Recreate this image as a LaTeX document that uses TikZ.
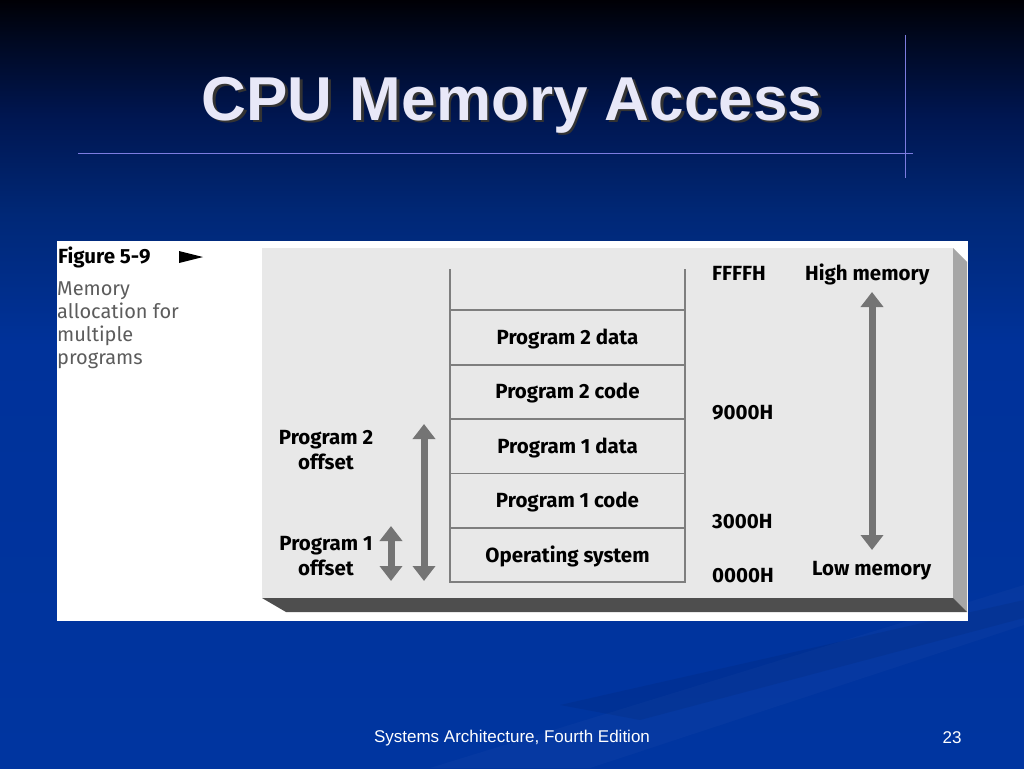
\documentclass[tikz,border=0pt]{standalone}
\usepackage{fontspec}
\setmainfont{Liberation Sans}
\newfontfamily\figfont{Fira Sans}
\usetikzlibrary{positioning,arrows.meta}
\definecolor{bgtop}{HTML}{000005}
\definecolor{bgblack}{HTML}{000820}
\definecolor{bgdark}{HTML}{001650}
\definecolor{bgmid}{HTML}{002877}
\definecolor{bglow}{HTML}{00329A}
\definecolor{bgbot}{HTML}{0035A0}
\definecolor{titlewhite}{HTML}{E8E8F8}
\definecolor{rulecol}{HTML}{7C7CE0}
\definecolor{panelgray}{HTML}{E8E8E8}
\definecolor{bevelgray}{HTML}{A6A6A6}
\definecolor{slabgray}{HTML}{4E4E4E}
\definecolor{linegray}{HTML}{7E7E7E}
\definecolor{arrowgray}{HTML}{747474}
\definecolor{capgray}{HTML}{5C5C5C}
\pgfdeclareverticalshading{slidebg}{100bp}{color(0bp)=(bgbot); color(25bp)=(bgbot); color(52.5bp)=(bglow); color(61bp)=(bgmid); color(67.5bp)=(bgdark); color(72.5bp)=(bgblack); color(75bp)=(bgtop); color(100bp)=(bgtop)}
\tikzset{
  figtext/.style={inner sep=0pt, font=\figfont\bfseries\fontsize{20.5}{25}\selectfont},
  memcell/.style={figtext, draw=linegray, line width=1.8pt, minimum width=235pt,
    minimum height=54.4pt, outer sep=0pt, text height=14pt, text depth=0pt},
  bigarrow/.style={draw=arrowgray, line width=7pt,
    {Triangle[width=22pt,length=15pt]}-{Triangle[width=22pt,length=15pt]}},
  rule/.style={draw=rulecol, line width=0.8pt}
}
\begin{document}
\begin{tikzpicture}[x=1pt,y=-1pt]
  \useasboundingbox (0,0) rectangle (1024,768);
  \shade[shading=slidebg] (0,0) rectangle (1024,768);
  \fill[white,opacity=0.025] (430,768) -- (1024,585) -- (1024,625) -- (590,768) -- cycle;
  \fill[black,opacity=0.06] (560,705) -- (1024,600) -- (1024,618) -- (640,720) -- cycle;
  \node[font=\bfseries\fontsize{62}{70}\selectfont, text=black!80, anchor=base] (titleshadow) at (514.5,122.5) {CPU Memory Access};
  \node[font=\bfseries\fontsize{62}{70}\selectfont, text=titlewhite, anchor=base] (title) at (512,120) {CPU Memory Access};
  \coordinate (hl) at (78,153);
  \coordinate (hr) at (913,153);
  \coordinate (vt) at (905,35);
  \coordinate (vb) at (905,178);
  \draw[rule] (hl) -- (hr);
  \draw[rule] (vt) -- (vb);
  \fill[white] (57,241) rectangle (968,621);
  \fill[panelgray] (262,248) rectangle (953,598);
  \fill[bevelgray] (953,248) -- (967,262) -- (967,612) -- (953,598) -- cycle;
  \fill[slabgray] (262,598) -- (953,598) -- (967,612) -- (286,612) -- cycle;
  \node[figtext, anchor=base west] (fig) at (58,263) {Figure 5-9};
  \fill (179,251) -- (203,257) -- (179,263) -- cycle;
  \node[inner sep=0pt, anchor=north west, align=left, text=capgray,
    font=\figfont\fontsize{20}{23}\selectfont] (caption) at (57,282)
    {Memory\\allocation for\\multiple\\programs};
  \node[memcell] (os) at (567.5,555) {Operating system};
  \node[memcell, above=0pt of os] (p1code) {Program 1 code};
  \node[memcell, above=0pt of p1code] (p1data) {Program 1 data};
  \node[memcell, above=0pt of p1data] (p2code) {Program 2 code};
  \node[memcell, above=0pt of p2code] (p2data) {Program 2 data};
  \draw[draw=linegray, line width=1.8pt] (p2data.north west) -- ++(0,-41);
  \draw[draw=linegray, line width=1.8pt] (p2data.north east) -- ++(0,-41);
  \node[figtext, anchor=base west] (affff) at (712,280) {FFFFH};
  \node[figtext, anchor=base west] (a9000) at (712,419) {9000H};
  \node[figtext, anchor=base west] (a3000) at (712,528) {3000H};
  \node[figtext, anchor=base west] (a0000) at (712,582) {0000H};
  \node[figtext, anchor=base west] (high) at (805,280) {High memory};
  \node[figtext, anchor=base west] (low) at (812,575) {Low memory};
  \node[figtext, align=center] (p2off) at (326,450) {Program 2\\offset};
  \node[figtext, align=center] (p1off) at (326,556) {Program 1\\offset};
  \coordinate (memtop) at (872,292);
  \coordinate (membot) at (872,550);
  \coordinate (p2top) at (424,424);
  \coordinate (p2bot) at (424,581);
  \coordinate (p1top) at (391,526);
  \coordinate (p1bot) at (391,581);
  \draw[bigarrow] (memtop) -- (membot);
  \draw[bigarrow] (p2top) -- (p2bot);
  \draw[bigarrow] (p1top) -- (p1bot);
  \node[text=white, font=\fontsize{17}{20}\selectfont] (footer) at (512,738) {Systems Architecture, Fourth Edition};
  \node[text=white, font=\fontsize{17}{20}\selectfont] (pagenum) at (952,738) {23};
\end{tikzpicture}
\end{document}
